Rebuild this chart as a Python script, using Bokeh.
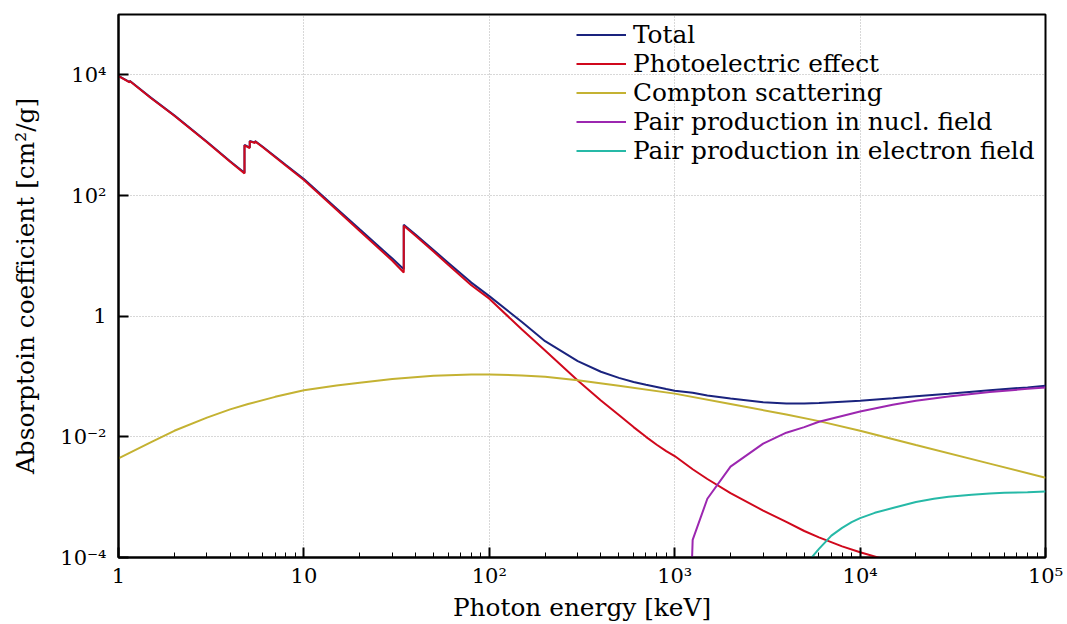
from bokeh.plotting import figure
from bokeh.models import Range1d, FixedTicker, CustomJSTickFormatter
from bokeh.embed import file_html
from bokeh.resources import INLINE

# ---------------- data ----------------
energy_total = [1, 1.149, 1.149, 1.5, 2, 3, 4, 4.782, 4.782, 5.104, 5.104, 5.453, 5.453,
                6, 8, 10, 15, 20, 30, 34.56, 34.56, 40, 50, 60, 80, 100, 150, 200, 300,
                400, 500, 600, 700, 800, 900, 1000, 1250, 1500, 2000, 3000, 4000, 5000, 6000, 8000,
                10000, 15000, 20000, 30000, 50000, 80000, 100000]
total = [9.6e3, 7.6e3, 8.0e3, 4.15e3, 2.13e3, 775, 370, 238, 690, 622, 802, 752, 802,
         642, 320, 188, 61, 27.5, 9.0, 6.0, 32.8, 22.6, 12.5, 7.7, 3.6, 2.15, 0.80, 0.385, 0.18,
         0.12, 0.095, 0.081, 0.073, 0.067, 0.062, 0.058, 0.0537, 0.0484, 0.0433, 0.0375, 0.0357, 0.0356, 0.0363, 0.0383,
         0.0397, 0.0437, 0.0472, 0.052, 0.059, 0.066, 0.0705]
photo = [9.5e3, 7.5e3, 7.9e3, 4.1e3, 2.1e3, 762, 362, 232, 680, 612, 790, 740, 790,
         630, 312, 181, 58, 25.8, 8.3, 5.3, 31.5, 21.5, 11.8, 7.1, 3.25, 1.95, 0.60, 0.27, 0.086,
         0.040, 0.023, 0.0145, 0.0100, 0.0074, 0.0058, 0.0048, 0.0029, 0.0020, 0.00117, 0.00060, 0.00039, 0.000275, 0.000216, 0.000153,
         0.000122, 0.000085, 0.000065, 0.000044, 0.000026, 0.000016, 0.000013]

energy_compton = [1, 1.5, 2, 3, 4, 5, 7, 10, 15, 20, 30, 50, 80, 100, 150, 200, 300, 500,
                  1000, 2000, 4000, 6000, 10000, 20000, 50000, 100000]
compton = [0.0044, 0.0082, 0.0126, 0.0208, 0.0285, 0.035, 0.046, 0.059, 0.071, 0.079, 0.091,
           0.103, 0.108, 0.108, 0.104, 0.099, 0.087, 0.070, 0.052, 0.035, 0.0235, 0.0182,
           0.0126, 0.0073, 0.0036, 0.0021]

energy_pair_nucl = [1022, 1250, 1500, 2000, 3000, 4000, 5000, 6000, 8000, 10000, 15000,
                    20000, 30000, 50000, 80000, 100000]
pair_nucl = [1e-12, 1.96e-4, 9.4e-4, 0.0032, 0.0077, 0.0117, 0.0145, 0.0178, 0.0222, 0.0262,
             0.034, 0.0396, 0.0467, 0.0552, 0.0625, 0.066]

energy_pair_el = [2044, 3000, 4000, 5000, 6000, 7000, 8000, 9000, 10000, 12000, 15000, 20000,
                  25000, 30000, 40000, 50000, 60000, 80000, 100000]
pair_el = [1e-12, 8e-6, 3.2e-5, 7.2e-5, 1.39e-4, 2.3e-4, 3.1e-4, 3.85e-4, 4.5e-4, 5.5e-4,
           6.6e-4, 8.3e-4, 9.4e-4, 1.02e-3, 1.1e-3, 1.15e-3, 1.18e-3, 1.21e-3, 1.24e-3]

series_names = ["Total", "Photoelectric effect", "Compton scattering",
                "Pair production in nucl. field", "Pair production in electron field"]
series_colors = ["#1a237e", "#d0081c", "#c4b232", "#9c27b0", "#26b9a7"]

x_tick_values = [1, 10, 100, 1000, 10000, 100000]
x_tick_labels = ["1", "10", "10\u00b2", "10\u00b3", "10\u2074", "10\u2075"]
y_tick_values = [1e-4, 1e-2, 1, 1e2, 1e4]
y_tick_labels = ["10\u207b\u2074", "10\u207b\u00b2", "1", "10\u00b2", "10\u2074"]

x_label = "Photon energy [keV]"
y_label = "Absorptoin coefficient [cm\u00b2/g]"

FONT = "DejaVu Serif"

# ---------------- figure ----------------
p = figure(width=1067, height=624, x_axis_type="log", y_axis_type="log",
           x_range=Range1d(1, 1e5), y_range=Range1d(1e-4, 1e5),
           output_backend="svg", toolbar_location=None,
           min_border_left=118, min_border_right=22, min_border_top=14, min_border_bottom=67)
p.background_fill_color = "white"
p.border_fill_color = "white"
p.outline_line_color = "black"
p.outline_line_width = 2
p.outline_line_alpha = 1

xs = [energy_total, energy_total, energy_compton, energy_pair_nucl, energy_pair_el]
ys = [total, photo, compton, pair_nucl, pair_el]
for xv, yv, name, col in zip(xs, ys, series_names, series_colors):
    p.line(xv, yv, line_color=col, line_width=2, legend_label=name)

x_minor = [k * 10 ** d for d in range(0, 5) for k in range(2, 10)]
xticker = FixedTicker(ticks=x_tick_values, minor_ticks=x_minor)
yticker = FixedTicker(ticks=y_tick_values, minor_ticks=[])
p.xaxis.ticker = xticker
p.yaxis.ticker = yticker
p.xgrid.ticker = xticker
p.ygrid.ticker = yticker

fmt_code = """
let best = -1, bd = 1e9;
for (let i = 0; i < vals.length; i++) {
  const d = Math.abs(Math.log10(vals[i]) - Math.log10(tick));
  if (d < bd) { bd = d; best = i; }
}
return bd < 1e-6 ? labs[best] : "";
"""
p.xaxis.formatter = CustomJSTickFormatter(args=dict(vals=x_tick_values, labs=x_tick_labels), code=fmt_code)
p.yaxis.formatter = CustomJSTickFormatter(args=dict(vals=y_tick_values, labs=y_tick_labels), code=fmt_code)

for ax in (p.xaxis[0], p.yaxis[0]):
    ax.axis_line_width = 2
    ax.axis_line_color = "black"
    ax.major_tick_in = 10
    ax.major_tick_out = 0
    ax.major_tick_line_width = 2
    ax.major_tick_line_color = "black"
    ax.minor_tick_in = 5
    ax.minor_tick_out = 0
    ax.minor_tick_line_width = 1
    ax.minor_tick_line_color = "black"
    ax.major_label_text_font = FONT
    ax.major_label_text_font_size = "21px"
    ax.major_label_text_color = "black"
    ax.axis_label_text_font = FONT
    ax.axis_label_text_font_size = "24.8px"
    ax.axis_label_text_font_style = "normal"
    ax.axis_label_text_color = "black"

p.xaxis.axis_label = x_label
p.yaxis.axis_label = y_label
p.xaxis.major_label_standoff = 6
p.xaxis.axis_label_standoff = 2
p.yaxis.major_label_standoff = 12
p.yaxis.axis_label_standoff = 17

for g in (p.xgrid[0], p.ygrid[0]):
    g.grid_line_color = "#b0b0b0"
    g.grid_line_width = 1
    g.grid_line_dash = "1 2"

lg = p.legend[0]
lg.location = (458, 392)
lg.padding = 0
lg.margin = 0
lg.spacing = 0
lg.glyph_width = 50
lg.glyph_height = 29
lg.label_height = 29
lg.label_standoff = 7
lg.label_text_font = FONT
lg.label_text_font_size = "24.8px"
lg.label_text_color = "black"
lg.background_fill_alpha = 0
lg.border_line_alpha = 0

open("out.html", "w").write(file_html(p, INLINE))
